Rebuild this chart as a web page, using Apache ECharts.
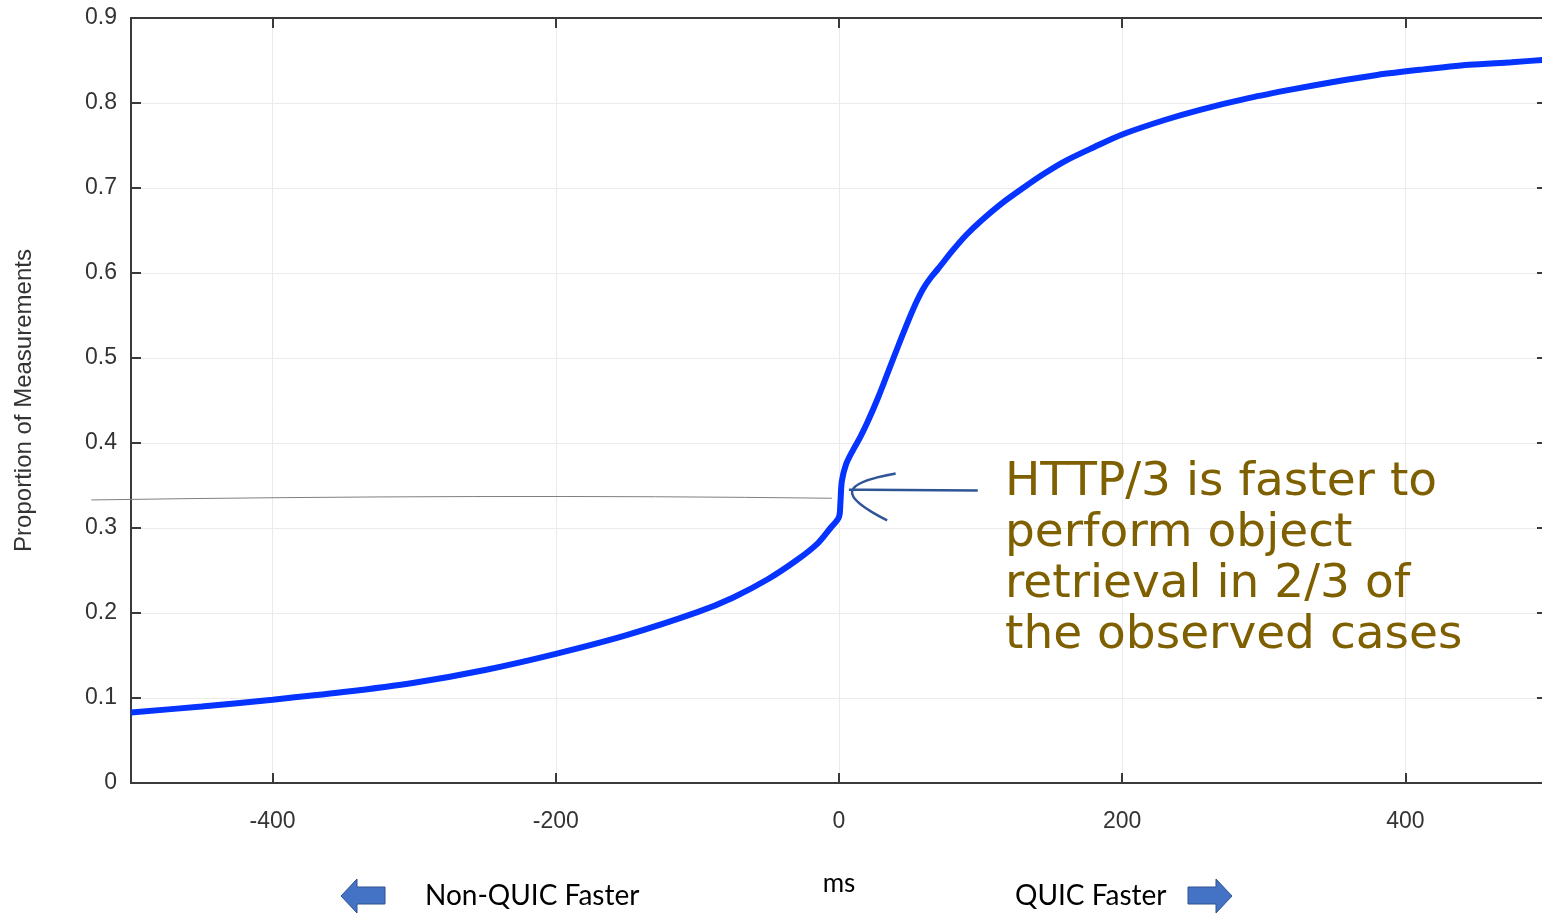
<!DOCTYPE html>
<html><head><meta charset="utf-8">
<script src="https://cdn.jsdelivr.net/npm/echarts@6/dist/echarts.min.js"></script>
<style>html,body{margin:0;padding:0;background:#fff;overflow:hidden}#c{width:1542px;height:914px}</style>
</head><body><div id="c"></div>
<script>
// ---- data ----
const msValues = [-500,-450,-400,-350,-300,-250,-200,-150,-100,-75,-50,-30,-15,-6,0,1,2,5,10,15,20,28,35,42,50,55,60,65,70,80,90,100,115,130,145,160,180,200,230,255,290,320,350,380,410,445,475,500];
const proportions = [0.083,0.090,0.098,0.107,0.118,0.133,0.152,0.174,0.201,0.218,0.240,0.262,0.282,0.300,0.313,0.330,0.355,0.375,0.392,0.407,0.424,0.455,0.485,0.515,0.548,0.567,0.583,0.595,0.605,0.626,0.645,0.661,0.682,0.700,0.717,0.732,0.748,0.763,0.780,0.792,0.806,0.816,0.825,0.833,0.839,0.845,0.848,0.851];
const xTickValues = [-400,-200,0,200,400];
const yTickLabels = ['0','0.1','0.2','0.3','0.4','0.5','0.6','0.7','0.8','0.9'];
const noteLines = ['HTTP/3 is faster to','perform object','retrieval in 2/3 of','the observed cases'];
const leftLabel = 'Non-QUIC Faster';
const rightLabel = 'QUIC Faster';

const chart = echarts.init(document.getElementById('c'), null, {renderer:'canvas'});
const axisColor = '#3a3a3a';
const labelFont = {fontFamily:'Liberation Sans', fontSize:23, color:'#333'};
const xBase = {
  type:'value', min:-500, max:500,
  axisLine:{show:true, onZero:false, lineStyle:{color:axisColor, width:2}},
  axisTick:{show:true, inside:true, length:10, customValues:xTickValues, lineStyle:{color:axisColor, width:2}},
  splitLine:{show:false}
};
const yBase = {
  type:'value', min:0, max:0.9, interval:0.1,
  axisLine:{show:true, onZero:false, lineStyle:{color:axisColor, width:2}},
  axisTick:{show:true, inside:true, length:10, lineStyle:{color:axisColor, width:2}},
  splitLine:{show:false}
};
chart.setOption({
  animation:false,
  backgroundColor:'#fff',
  grid:{left:131, width:1416, top:18, height:765, containLabel:false, outerBoundsMode:'none'},
  xAxis:[
    Object.assign({}, xBase, {
      position:'bottom',
      name:'ms', nameLocation:'middle', nameGap:88,
      nameTextStyle:{fontFamily:'Lato', fontSize:26, color:'#000'},
      axisLabel:Object.assign({show:true, margin:27, customValues:xTickValues}, labelFont),
      splitLine:{show:true, lineStyle:{color:'#ebebeb', width:1}}
    }),
    Object.assign({}, xBase, {position:'top', axisLabel:{show:false}})
  ],
  yAxis:[
    Object.assign({}, yBase, {
      position:'left',
      name:'Proportion of Measurements', nameLocation:'middle', nameGap:95,
      nameTextStyle:{fontFamily:'Liberation Sans', fontSize:24, color:'#333'},
      axisLabel:Object.assign({show:true, margin:14, formatter:(v)=>yTickLabels[Math.round(v*10)]}, labelFont),
      splitLine:{show:true, lineStyle:{color:'#ebebeb', width:1}}
    }),
    Object.assign({}, yBase, {position:'right', axisLabel:{show:false}})
  ],
  series:[{
    type:'line', xAxisIndex:0, yAxisIndex:0,
    data: msValues.map((x,i)=>[x, proportions[i]]),
    showSymbol:false, smooth:0.3,
    lineStyle:{color:'#0533ff', width:6}, z:5
  }]
});

// ---- annotations anchored to the axes ----
const P = (x,y)=>chart.convertToPixel({xAxisIndex:0,yAxisIndex:0},[x,y]);
const a = P(-528,0.333), b = P(-5,0.335), c1 = P(-250,0.340);
const tip = P(7,0.345), tail = P(98,0.344), h1 = P(40,0.364), h2 = P(34,0.309);
const graphics = [
  {type:'bezierCurve', shape:{x1:a[0],y1:a[1],cpx1:c1[0],cpy1:c1[1],x2:b[0],y2:b[1]}, style:{stroke:'#7f7f7f', lineWidth:1, fill:null}, z:10},
  {type:'polyline', shape:{points:[tail,[tip[0]+15,tip[1]],tip]}, style:{stroke:'#2f5597', lineWidth:2.5, fill:null}, z:10},
  {type:'bezierCurve', shape:{x1:h1[0],y1:h1[1],cpx1:tip[0]-10,cpy1:tip[1]-6,cpx2:tip[0]-10,cpy2:tip[1]+6,x2:h2[0],y2:h2[1]}, style:{stroke:'#2f5597', lineWidth:2.5, fill:null}, z:10}
];
const noteX = 1005, noteTop = 483, noteStep = 51;
noteLines.forEach((t,i)=>graphics.push({type:'text', x:noteX, y:noteTop+i*noteStep, style:{text:t, fill:'#7f6000', font:'47px "DejaVu Sans"', textVerticalAlign:'middle', textAlign:'left'}, z:10}));
// bottom direction arrows
const arrow = (pts)=>({type:'polygon', shape:{points:pts}, style:{fill:'#4472c4', stroke:'#2f528f', lineWidth:1}, z:10});
graphics.push(arrow([[341,896],[357,879],[357,887],[385,887],[385,904],[357,904],[357,913]]));
graphics.push(arrow([[1232,896],[1216,879],[1216,887],[1188,887],[1188,904],[1216,904],[1216,913]]));
graphics.push({type:'text', x:425, y:896, style:{text:leftLabel, fill:'#000', font:'28px Lato', textVerticalAlign:'middle'}, z:10});
graphics.push({type:'text', x:1015, y:896, style:{text:rightLabel, fill:'#000', font:'28px Lato', textVerticalAlign:'middle'}, z:10});
chart.setOption({graphic:graphics});
</script></body></html>
